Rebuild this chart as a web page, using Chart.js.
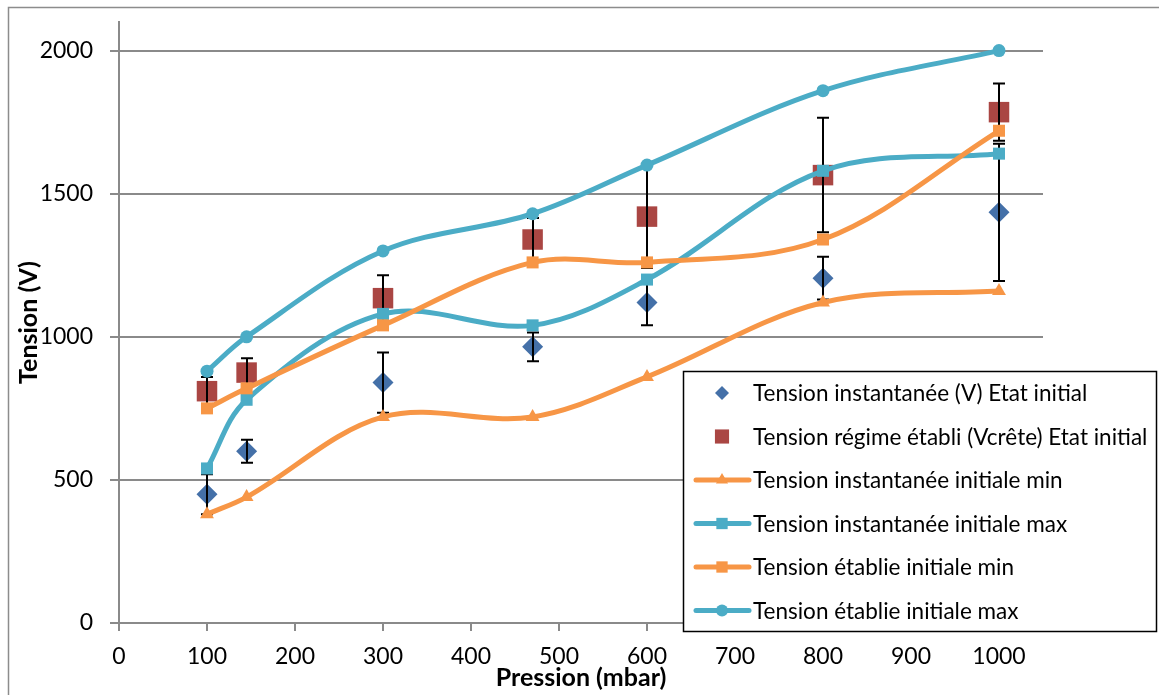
<!DOCTYPE html>
<html>
<head>
<meta charset="utf-8">
<script src="https://cdn.jsdelivr.net/npm/chart.js@4.4.0/dist/chart.umd.min.js"></script>
<style>
  body { margin: 0; background: #fff; }
  #wrap { width: 1159px; height: 695px; }
</style>
</head>
<body>
<div id="wrap"><canvas id="tensionchart" width="1159" height="695"></canvas></div>
<script>
  // TENSION vs PRESSION - ETAT INITIAL
  // Setup Block
  const pressure = [100, 145, 300, 470, 600, 800, 1000];
  const inst_etat = [450, 600, 840, 965, 1120, 1205, 1435];
  const inst_etat_err = [70, 40, 105, 50, 80, 75, 240];
  const regime_etat = [810, 875, 1135, 1340, 1420, 1565, 1785];
  const regime_etat_err = [50, 50, 80, 75, 180, 200, 100];
  const inst_min = [380, 440, 720, 720, 860, 1120, 1160];
  const inst_max = [540, 780, 1080, 1040, 1200, 1580, 1640];
  const etablie_min = [750, 820, 1040, 1260, 1260, 1340, 1720];
  const etablie_max = [880, 1000, 1300, 1430, 1600, 1860, 2000];
  const x_ticks = [0, 100, 200, 300, 400, 500, 600, 700, 800, 900, 1000];
  const y_ticks = [0, 500, 1000, 1500, 2000];

  const pts = ys => pressure.map((x, i) => ({ x: x, y: ys[i] }));

  const blue = '#4470a8', red = '#aa4643', teal = '#4bacc6', orange = '#f79646';
  const gridGrey = '#8a8a8a';

  const data_tension = {
    datasets: [{
      label: 'Tension instantanée (V) Etat initial',
      data: pts(inst_etat),
      errors: inst_etat_err,
      showLine: false,
      pointStyle: 'rectRot',
      pointRadius: 10.5,
      pointHoverRadius: 10.5,
      backgroundColor: blue,
      borderColor: blue,
      pointBorderWidth: 0,
      legendRadius: 7,
      order: 6
    }, {
      label: 'Tension régime établi (Vcrête) Etat initial',
      data: pts(regime_etat),
      errors: regime_etat_err,
      showLine: false,
      pointStyle: 'rect',
      pointRadius: 14.5,
      pointHoverRadius: 14.5,
      backgroundColor: red,
      borderColor: red,
      pointBorderWidth: 0,
      legendRadius: 10,
      order: 5
    }, {
      label: 'Tension instantanée initiale min',
      data: pts(inst_min),
      showLine: true,
      borderWidth: 5,
      pointStyle: 'triangle',
      pointRadius: 8,
      pointBorderWidth: 0,
      backgroundColor: orange,
      borderColor: orange,
      legendRadius: 7,
      order: 4
    }, {
      label: 'Tension instantanée initiale max',
      data: pts(inst_max),
      showLine: true,
      borderWidth: 5,
      pointStyle: 'rect',
      pointRadius: 8.5,
      pointBorderWidth: 0,
      backgroundColor: teal,
      borderColor: teal,
      legendRadius: 8,
      order: 3
    }, {
      label: 'Tension établie initiale min',
      data: pts(etablie_min),
      showLine: true,
      borderWidth: 5,
      pointStyle: 'rect',
      pointRadius: 8.5,
      pointBorderWidth: 0,
      backgroundColor: orange,
      borderColor: orange,
      legendRadius: 8,
      order: 2
    }, {
      label: 'Tension établie initiale max',
      data: pts(etablie_max),
      showLine: true,
      borderWidth: 5,
      pointStyle: 'circle',
      pointRadius: 6.5,
      pointBorderWidth: 0,
      backgroundColor: teal,
      borderColor: teal,
      legendRadius: 6,
      order: 1
    }]
  };

  // error bars drawn right after their own dataset, so the lines go on top
  const errorBars = {
    id: 'errorBars',
    afterDatasetDraw(chart, args) {
      const ds = chart.data.datasets[args.index];
      if (!ds.errors) return;
      const ctx = chart.ctx, xs = chart.scales.x, ys = chart.scales.y;
      ctx.save();
      ctx.strokeStyle = '#000';
      ctx.lineWidth = 2;
      ds.data.forEach((p, i) => {
        const x = Math.round(xs.getPixelForValue(p.x));
        const top = ys.getPixelForValue(p.y + ds.errors[i]);
        const bot = ys.getPixelForValue(p.y - ds.errors[i]);
        ctx.beginPath();
        ctx.moveTo(x, top); ctx.lineTo(x, bot);
        ctx.moveTo(x - 6, top); ctx.lineTo(x + 6, top);
        ctx.moveTo(x - 6, bot); ctx.lineTo(x + 6, bot);
        ctx.stroke();
      });
      ctx.restore();
    }
  };

  // outer frame + floating legend box
  const frameLegend = {
    id: 'frameLegend',
    beforeDraw(chart) {
      const ctx = chart.ctx;
      ctx.save();
      ctx.strokeStyle = '#8c8c8c';
      ctx.lineWidth = 1.5;
      ctx.strokeRect(8.5, 7.5, 1200, 720);
      ctx.restore();
    },
    afterDraw(chart) {
      const ctx = chart.ctx;
      ctx.save();
      ctx.fillStyle = '#fff';
      ctx.fillRect(683, 371, 474, 261);
      ctx.strokeStyle = '#000';
      ctx.lineWidth = 1.5;
      ctx.strokeRect(683.5, 371.5, 473, 260);
      ctx.font = '22.5px Lato';
      ctx.textBaseline = 'middle';
      chart.data.datasets.forEach((ds, i) => {
        const y = 393 + i * 43.5;
        if (ds.showLine) {
          ctx.strokeStyle = ds.borderColor;
          ctx.lineWidth = 5;
          ctx.lineCap = 'round';
          ctx.beginPath();
          ctx.moveTo(696, y); ctx.lineTo(749, y);
          ctx.stroke();
        }
        ctx.fillStyle = ds.backgroundColor;
        Chart.helpers.drawPoint(ctx, { pointStyle: ds.pointStyle, radius: ds.legendRadius, rotation: 0, borderWidth: 0 }, 722, y);
        ctx.fillStyle = '#000';
        ctx.fillText(ds.label, 753, y + 1);
      });
      ctx.restore();
    }
  };

  // Config Block
  const config_tension = {
    type: 'scatter',
    data: data_tension,
    plugins: [errorBars, frameLegend],
    options: {
      responsive: false,
      animation: false,
      layout: { padding: { top: 22, right: 116, left: 0, bottom: 0 } },
      elements: {
        line: { borderWidth: 5, tension: 0.35 },
        point: { borderWidth: 0 }
      },
      plugins: {
        legend: { display: false },
        tooltip: { enabled: false }
      },
      scales: {
        x: {
          type: 'linear',
          min: 0,
          max: 1050,
          afterBuildTicks: s => { s.ticks = x_ticks.map(v => ({ value: v })); },
          afterFit: s => { s.height = 72; },
          grid: { drawOnChartArea: false, drawTicks: true, tickLength: 8, color: gridGrey, lineWidth: 2 },
          border: { color: gridGrey, width: 2 },
          ticks: { color: '#000', font: { family: 'Lato', size: 23 }, padding: 12, maxRotation: 0, autoSkip: false, callback: v => String(v) },
          title: { display: true, text: 'Pression (mbar)', color: '#000', font: { family: 'Lato', size: 25, weight: 'bold' }, padding: { top: 0, bottom: 2 } }
        },
        y: {
          min: 0,
          max: 2100,
          afterBuildTicks: s => { s.ticks = y_ticks.map(v => ({ value: v })); },
          afterFit: s => { s.width = 119; s.paddingTop = 0; },
          grid: { color: gridGrey, lineWidth: 2, tickLength: 9 },
          border: { color: gridGrey, width: 2 },
          ticks: { color: '#000', font: { family: 'Lato', size: 23, lineHeight: 0.6 }, padding: 17, callback: v => String(v) },
          title: { display: true, text: 'Tension (V)', color: '#000', font: { family: 'Lato', size: 25, weight: 'bold' }, padding: { top: 14, bottom: 0 } }
        }
      }
    }
  };

  // Render Block
  const tensionchart = new Chart(
    document.getElementById('tensionchart'),
    config_tension
  );
</script>
</body>
</html>
